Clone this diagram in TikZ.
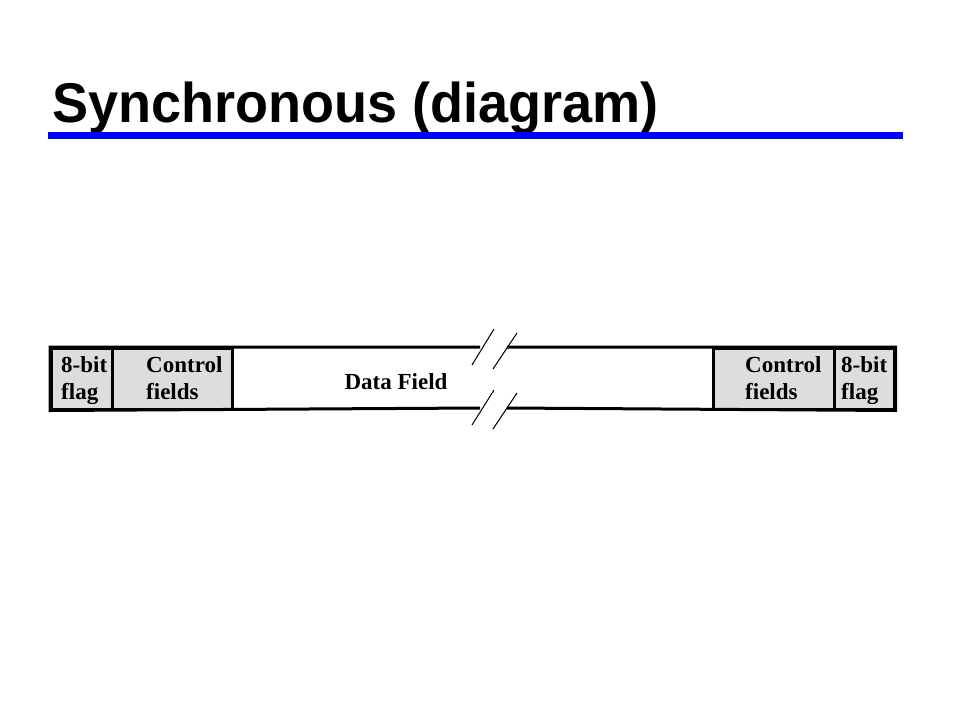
\documentclass[tikz,border=0pt]{standalone}
\usepackage{fontspec}
\setmainfont{Liberation Serif}
\newfontfamily\titlefont{Liberation Sans}
\begin{document}
\begin{tikzpicture}[x=1pt,y=-1pt,
  cellbox/.style={draw=black,line width=2.5pt,fill=cellgray,inner sep=0pt,anchor=north west},
  frameline/.style={draw=black,line width=3pt},
  breakmark/.style={draw=black,line width=1pt},
  lbl/.style={font=\fontsize{23}{23}\selectfont\bfseries,inner sep=0pt,anchor=base west}]
\definecolor{cellgray}{RGB}{221,221,221}
\definecolor{titleblue}{RGB}{0,0,255}
\useasboundingbox (0,0) rectangle (960,720);
\fill[white] (0,0) rectangle (960,720);
% title
\node[font=\titlefont\fontsize{56}{56}\selectfont\bfseries,inner sep=0pt,anchor=base west,xscale=0.965] (title) at (52,122) {Synchronous (diagram)};
\fill[titleblue] (48,132) rectangle (903,139);
% cells
\node[cellbox,minimum width=61pt,minimum height=61pt] (flagL) at (50,347) {};
\node[cellbox,minimum width=120pt,minimum height=61pt] (ctrlL) at (111,347) {};
\node[cellbox,minimum width=121pt,minimum height=61pt] (ctrlR) at (712,347) {};
\node[cellbox,minimum width=60pt,minimum height=61pt] (flagR) at (833,347) {};
% frame with break
\coordinate (tl) at (480,347);
\coordinate (bl) at (480,408);
\coordinate (tr) at (507,347);
\coordinate (br) at (507,408);
\draw[frameline,line cap=butt] (tl) -- (flagL.north west) -- (flagL.south west) -- (bl);
\draw[frameline,line cap=butt] (tr) -- (flagR.north east) -- (flagR.south east) -- (br);
% break marks
\draw[breakmark] (472,365) -- (494,329);
\draw[breakmark] (493,369) -- (517,333);
\draw[breakmark] (472,425) -- (494,390);
\draw[breakmark] (493,429) -- (517,393);
% labels
\node[lbl] (fl1) at (61,372) {8-bit};
\node[lbl] (fl2) at (61,399) {flag};
\node[lbl] (cl1) at (146,372) {Control};
\node[lbl] (cl2) at (146,399) {fields};
\node[lbl,anchor=base] (data) at (396,389) {Data Field};
\node[lbl] (cr1) at (745,372) {Control};
\node[lbl] (cr2) at (745,399) {fields};
\node[lbl] (fr1) at (841,372) {8-bit};
\node[lbl] (fr2) at (841,399) {flag};
\end{tikzpicture}
\end{document}
